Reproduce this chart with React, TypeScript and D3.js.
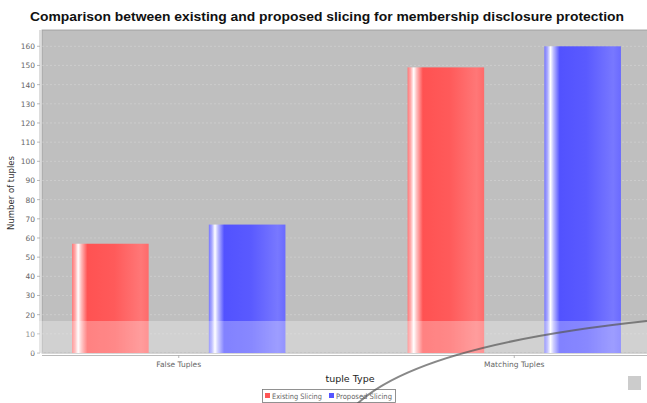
import React from "react";
import * as d3 from "d3";

const categories = ["False Tuples", "Matching Tuples"];
const seriesNames = ["Existing Slicing", "Proposed Slicing"];
const existingValues = [57, 149];
const proposedValues = [67, 160];
const yTicks = [0, 10, 20, 30, 40, 50, 60, 70, 80, 90, 100, 110, 120, 130, 140, 150, 160];

const W = 647;
const H = 403;
const plot = { left: 42, right: 651, top: 30, bottom: 353 };

export default function App() {
  const y = d3.scaleLinear().domain([0, 168.5]).range([plot.bottom, plot.top]);
  const x0 = d3
    .scaleBand<string>()
    .domain(categories)
    .range([plot.left, plot.right])
    .paddingInner(0.364)
    .paddingOuter(0.0896);
  const x1 = d3
    .scaleBand<string>()
    .domain(seriesNames)
    .range([0, x0.bandwidth()])
    .paddingInner(0.44)
    .paddingOuter(0);
  const data = [existingValues, proposedValues];
  const grads = ["gRed", "gBlue"];

  return (
    <svg
      width={W}
      height={H}
      style={{ position: "absolute", left: 0, top: 0, background: "#fff" }}
      fontFamily="Tahoma, 'DejaVu Sans', sans-serif"
    >
      <defs>
        <linearGradient id="gRed" x1="0" x2="1" y1="0" y2="0">
          <stop offset="0" stopColor="#f77" />
          <stop offset="0.04" stopColor="#faa" />
          <stop offset="0.08" stopColor="#fff" />
          <stop offset="0.12" stopColor="#fbb" />
          <stop offset="0.2" stopColor="#ff5252" />
          <stop offset="0.55" stopColor="#ff5a5a" />
          <stop offset="0.9" stopColor="#ff7777" />
          <stop offset="1" stopColor="#ff6a6a" />
        </linearGradient>
        <linearGradient id="gBlue" x1="0" x2="1" y1="0" y2="0">
          <stop offset="0" stopColor="#77f" />
          <stop offset="0.04" stopColor="#aaf" />
          <stop offset="0.08" stopColor="#fff" />
          <stop offset="0.12" stopColor="#bbf" />
          <stop offset="0.2" stopColor="#5252ff" />
          <stop offset="0.55" stopColor="#5a5aff" />
          <stop offset="0.9" stopColor="#7878ff" />
          <stop offset="1" stopColor="#6a6aff" />
        </linearGradient>
      </defs>
      <rect x={0} y={0} width={W} height={H} fill="#fff" />
      <text
        x={327}
        y={21}
        textAnchor="middle"
        fontSize={12.5}
        fontWeight="bold"
        fill="#111"
        fontFamily="'Liberation Sans', Arial, sans-serif"
        textLength={594}
        lengthAdjust="spacingAndGlyphs"
      >
        Comparison between existing and proposed slicing for membership disclosure protection
      </text>
      <rect
        x={plot.left}
        y={plot.top}
        width={plot.right - plot.left}
        height={plot.bottom - plot.top}
        fill="#bfbfbf"
        stroke="#999"
        strokeWidth={0.8}
      />
      {yTicks.map((t) => (
        <g key={t}>
          <line
            x1={plot.left}
            x2={plot.right}
            y1={y(t)}
            y2={y(t)}
            stroke="#d8d8d8"
            strokeWidth={0.5}
            strokeDasharray="2,2"
          />
          <line x1={37} x2={40} y1={y(t)} y2={y(t)} stroke="#999" strokeWidth={0.7} />
          <text x={35} y={y(t) + 3} textAnchor="end" fontSize={7.5} fill="#666">
            {t}
          </text>
        </g>
      ))}
      <line x1={40} x2={40} y1={plot.top} y2={plot.bottom} stroke="#aaa" strokeWidth={0.8} />
      <line x1={plot.left} x2={W} y1={355.5} y2={355.5} stroke="#aaa" strokeWidth={0.8} />
      {categories.map((c, ci) => (
        <g key={c}>
          {seriesNames.map((s, si) => {
            const v = data[si][ci];
            const bx = (x0(c) as number) + (x1(s) as number);
            return (
              <rect
                key={s}
                x={bx}
                y={y(v)}
                width={x1.bandwidth()}
                height={plot.bottom - y(v)}
                fill={`url(#${grads[si]})`}
              />
            );
          })}
          <line
            x1={(x0(c) as number) + x0.bandwidth() / 2}
            x2={(x0(c) as number) + x0.bandwidth() / 2}
            y1={355.5}
            y2={358}
            stroke="#999"
            strokeWidth={0.7}
          />
          <text
            x={(x0(c) as number) + x0.bandwidth() / 2}
            y={367}
            textAnchor="middle"
            fontSize={7.5}
            fill="#666"
          >
            {c}
          </text>
        </g>
      ))}
      <rect x={0} y={321} width={W} height={32} fill="#fff" opacity={0.28} />
      <text x={350} y={382} textAnchor="middle" fontSize={9.5} fill="#222">
        tuple Type
      </text>
      <text
        x={14}
        y={193}
        textAnchor="middle"
        fontSize={8.5}
        fill="#333"
        transform="rotate(-90 14 193)"
      >
        Number of tuples
      </text>
      <g>
        <rect x={262.5} y={389.5} width={133} height={13} fill="#fff" stroke="#777" strokeWidth={0.8} />
        <rect x={265} y={393} width={5} height={5} fill="#f55" />
        <text x={272} y={399} fontSize={7.5} fill="#666" textLength={50} lengthAdjust="spacingAndGlyphs">
          {seriesNames[0]}
        </text>
        <rect x={329} y={393} width={5} height={5} fill="#55f" />
        <text x={336} y={399} fontSize={7.5} fill="#666" textLength={56} lengthAdjust="spacingAndGlyphs">
          {seriesNames[1]}
        </text>
      </g>
      <path
        d="M357,404 Q420,345 647,321"
        fill="none"
        stroke="#555"
        strokeWidth={2}
        opacity={0.7}
      />
      <rect x={628} y={376} width={13} height={14} fill="#ccc" />
    </svg>
  );
}
